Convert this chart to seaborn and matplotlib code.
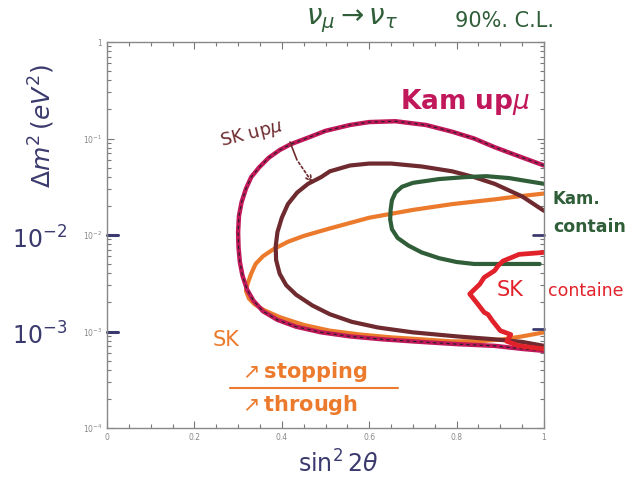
import numpy as np
import pandas as pd
import seaborn as sns
import matplotlib
matplotlib.use("Agg")
import matplotlib.pyplot as plt
from matplotlib.ticker import FixedLocator, FixedFormatter, LogLocator, NullFormatter, MultipleLocator

# ---- data ----
kam_up_x = [1.00, 0.94, 0.887, 0.84, 0.79, 0.73, 0.66, 0.60, 0.556, 0.50, 0.46, 0.42, 0.395, 0.37,
            0.348, 0.33, 0.318, 0.308, 0.302, 0.300, 0.301, 0.304, 0.31, 0.32, 0.335, 0.357, 0.39,
            0.433, 0.49, 0.556, 0.63, 0.70, 0.80, 0.887, 0.95, 1.00]
kam_up_y = [0.0525, 0.0661, 0.0813, 0.100, 0.1175, 0.138, 0.151, 0.148, 0.138, 0.120, 0.102, 0.0871,
            0.0759, 0.0631, 0.0501, 0.0398, 0.0302, 0.0219, 0.0158, 0.0107, 0.00741, 0.00525,
            0.0038, 0.00275, 0.00209, 0.00162, 0.00132, 0.00112, 0.00098, 0.00089, 0.00083,
            0.00079, 0.00074, 0.00071, 0.00066, 0.00063]

sk_up_x = [1.0, 0.95, 0.887, 0.84, 0.79, 0.72, 0.65, 0.60, 0.556, 0.51, 0.49, 0.46, 0.435, 0.414,
           0.40, 0.39, 0.386, 0.387, 0.395, 0.41, 0.433, 0.47, 0.51, 0.56, 0.62, 0.70, 0.80, 0.887,
           0.95, 1.0]
sk_up_y = [0.0178, 0.0251, 0.0339, 0.0398, 0.0457, 0.0513, 0.0550, 0.0550, 0.0525, 0.0457, 0.0398,
           0.0339, 0.0275, 0.0209, 0.0151, 0.0107, 0.00759, 0.0055, 0.00398, 0.00302, 0.0024,
           0.00186, 0.00151, 0.00126, 0.0011, 0.00098, 0.00089, 0.00083, 0.00078, 0.00071]

kam_con_x = [1.0, 0.96, 0.92, 0.868, 0.82, 0.76, 0.70, 0.675, 0.66, 0.652, 0.649, 0.648, 0.652,
             0.665, 0.69, 0.72, 0.76, 0.80, 0.84, 0.90, 0.95, 0.99]
kam_con_y = [0.0339, 0.0363, 0.0389, 0.0407, 0.0398, 0.038, 0.0347, 0.0316, 0.0275, 0.0229, 0.0182,
             0.0145, 0.0115, 0.00933, 0.00776, 0.0066, 0.00575, 0.00525, 0.00501, 0.00501, 0.00501,
             0.00501]

sk_con_x = [1.0, 0.943, 0.906, 0.895, 0.887, 0.863, 0.853, 0.83, 0.849, 0.863, 0.872, 0.882, 0.90,
            0.924, 0.915, 0.943, 1.0]
sk_con_y = [0.0066, 0.0063, 0.00537, 0.0048, 0.00427, 0.00363, 0.00309, 0.00245, 0.00191, 0.00158,
            0.0015, 0.00129, 0.00102, 0.00093, 0.00079, 0.00071, 0.00066]

sk_stop_x = [1.0, 0.94, 0.887, 0.79, 0.70, 0.60, 0.51, 0.45, 0.414, 0.38, 0.357, 0.34, 0.33, 0.322,
             0.318, 0.325, 0.338, 0.36, 0.395, 0.45, 0.51, 0.58, 0.65, 0.72, 0.79, 0.85, 0.906,
             0.95, 1.0]
sk_stop_y = [0.0269, 0.0251, 0.0234, 0.0209, 0.0182, 0.0151, 0.0117, 0.00977, 0.00851, 0.00708,
             0.00603, 0.00501, 0.00398, 0.00316, 0.00263, 0.00219, 0.00191, 0.00166, 0.00141,
             0.00117, 0.00102, 0.00093, 0.00087, 0.00083, 0.00079, 0.00079, 0.00083, 0.00089,
             0.00098]

y_ticks = [1e-4, 1e-3, 1e-2, 1e-1, 1]
y_tick_labels = ["10$^{-4}$", "10$^{-3}$", "10$^{-2}$", "10$^{-1}$", "1"]
x_ticks = [0, 0.2, 0.4, 0.6, 0.8, 1]
x_tick_labels = ["0", "0.2", "0.4", "0.6", "0.8", "1"]

# ---- style ----
sns.set_style("ticks")
plt.rcParams['font.family'] = ['DejaVu Sans']

W, H = 642, 483
fig = plt.figure(figsize=(W / 100, H / 100), dpi=100)
ax = fig.add_axes([107 / W, 1 - 428 / H, 437 / W, 386 / H])

def px(x, y):
    return x / W, 1 - y / H

C_KAM = "#c0185a"
C_SKUP = "#6e2a2e"
C_GREEN = "#2f5e38"
C_RED = "#e2222a"
C_ORANGE = "#ec7a2c"
C_NAVY = "#3b3a6e"

def curve(xs, ys, color, lw):
    df = pd.DataFrame({"x": xs, "y": ys})
    sns.lineplot(data=df, x="x", y="y", sort=False, estimator=None, color=color,
                 linewidth=lw, ax=ax, solid_capstyle="round", solid_joinstyle="round")

curve(sk_stop_x, sk_stop_y, C_ORANGE, 3.0)
curve(kam_up_x, kam_up_y, C_KAM, 3.2)
ax.plot(kam_up_x, kam_up_y, color="#222222", lw=0.8, ls=(0, (3, 3)))
curve(sk_up_x, sk_up_y, C_SKUP, 3.0)
curve(kam_con_x, kam_con_y, C_GREEN, 3.0)
curve(sk_con_x, sk_con_y, C_RED, 3.4)

ax.set_yscale("log")
ax.set_xlim(0, 1)
ax.set_ylim(1e-4, 1)
ax.yaxis.set_major_locator(FixedLocator(y_ticks))
ax.yaxis.set_major_formatter(FixedFormatter(y_tick_labels))
ax.yaxis.set_minor_locator(LogLocator(base=10, subs=np.arange(2, 10)))
ax.yaxis.set_minor_formatter(NullFormatter())
ax.xaxis.set_major_locator(FixedLocator(x_ticks))
ax.xaxis.set_major_formatter(FixedFormatter(x_tick_labels))
ax.xaxis.set_minor_locator(MultipleLocator(0.05))
ax.tick_params(which="both", direction="in", top=True, right=True, colors="#777777",
               labelsize=5.5, labelcolor="#888888", width=0.8)
ax.tick_params(which="major", length=5)
ax.tick_params(which="minor", length=3)
for s in ax.spines.values():
    s.set_color("#888888")
    s.set_linewidth(1.0)
ax.set_xlabel("")
ax.set_ylabel("")

# hand-drawn marks on axes
for yy in [1e-2, 1e-3]:
    ax.plot([0, 0.025], [yy, yy], color=C_NAVY, lw=2.2, clip_on=False)
ax.plot([0.975, 1.0], [1.0e-2, 1.0e-2], color=C_NAVY, lw=2, clip_on=False)
ax.plot([0.975, 1.0], [1.05e-3, 1.05e-3], color=C_NAVY, lw=2, clip_on=False)

# ---- handwritten annotations ----
fig.text(*px(306, 21), r"$\nu_\mu\rightarrow\nu_\tau$", color=C_GREEN, fontsize=20,
         ha="left", va="center")
fig.text(*px(455, 21), "90%. C.L.", color=C_GREEN, fontsize=15, ha="left", va="center")

fig.text(*px(42, 126), r"$\Delta m^2\,(eV^2)$", color=C_NAVY, fontsize=18,
         rotation=90, ha="center", va="center")
fig.text(*px(40, 240), r"$10^{-2}$", color=C_NAVY, fontsize=17, ha="center", va="center")
fig.text(*px(40, 336), r"$10^{-3}$", color=C_NAVY, fontsize=17, ha="center", va="center")
fig.text(*px(338, 464), r"$\sin^2 2\theta$", color=C_NAVY, fontsize=17, ha="center", va="center")

fig.text(*px(465, 102), r"Kam up$\mu$", color=C_KAM, fontsize=19, fontweight="bold",
         ha="center", va="center")
fig.text(*px(252, 134), r"SK up$\mu$", color=C_SKUP, fontsize=13, ha="center", va="center",
         rotation=14)
ax.annotate("", xy=px(314, 185), xycoords="figure fraction",
            xytext=px(297, 160), textcoords="figure fraction",
            arrowprops=dict(arrowstyle="->", color=C_SKUP, lw=1.2, ls=(0, (1.5, 1.5))))
fig.lines.append(plt.Line2D([290 / W, 297 / W], [1 - 142 / H, 1 - 160 / H],
                            transform=fig.transFigure, color=C_SKUP, lw=1.2))

fig.text(*px(553, 199), "Kam.", color=C_GREEN, fontsize=12, ha="left", va="center",
         fontweight="bold")
fig.text(*px(553, 227), "contain", color=C_GREEN, fontsize=12.5, ha="left", va="center",
         fontweight="bold")
fig.text(*px(497, 290), "SK", color=C_RED, fontsize=15, ha="left", va="center")
fig.text(*px(548, 291), "containe", color=C_RED, fontsize=12.5, ha="left", va="center")

fig.text(*px(226, 340), "SK", color=C_ORANGE, fontsize=15, ha="center", va="center")
fig.text(*px(238, 372), r"$\nearrow$stopping", color=C_ORANGE, fontsize=15, ha="left",
         va="center", fontweight="bold")
fig.lines.append(plt.Line2D([230 / W, 398 / W], [1 - 388 / H, 1 - 388 / H],
                            transform=fig.transFigure, color=C_ORANGE, lw=1.5))
fig.text(*px(238, 405), r"$\nearrow$through", color=C_ORANGE, fontsize=15, ha="left",
         va="center", fontweight="bold")

fig.savefig("out.png", dpi=100)
